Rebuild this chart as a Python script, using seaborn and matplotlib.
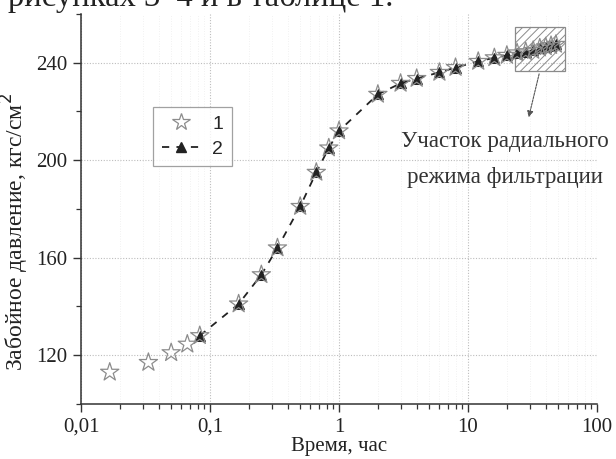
import pandas as pd
import matplotlib
matplotlib.use("Agg")
import matplotlib.pyplot as plt
import seaborn as sns
from matplotlib.patches import Rectangle
from matplotlib.lines import Line2D
from matplotlib.ticker import FixedLocator, LogLocator, NullFormatter, MultipleLocator

# curve 1 - measured points (stars), time in hours
time_1 = [0.0167, 0.0333, 0.05, 0.0667, 0.0833, 0.1667, 0.25, 0.3333, 0.5, 0.6667,
          0.8333, 1, 2, 3, 4, 6, 8, 12, 16, 20, 24, 28, 32, 36, 40, 44, 48]
pressure_1 = [113, 117, 121, 124.5, 128, 141, 153, 164, 181, 195,
              205, 212, 227, 231.5, 233.5, 236, 238, 240.5, 242, 243, 244, 244.5, 245, 246, 246.5, 247, 247.5]

# curve 2 - calculated (triangles, dashed)
time_2 = [0.0833, 0.1667, 0.25, 0.3333, 0.5, 0.6667, 0.8333, 1, 2, 3, 4, 6, 8,
          12, 16, 20, 24, 28, 32, 36, 40, 44, 48]
pressure_2 = [128, 141, 153, 164, 181, 195, 205, 212, 227, 231.5, 233.5, 236, 238,
              240.5, 242, 243, 244, 244.5, 245, 246, 246.5, 247, 247.5]

x_ticks = [0.01, 0.1, 1, 10, 100]
x_tick_labels = ["0,01", "0,1", "1", "10", "100"]
y_ticks = [120, 160, 200, 240]

sns.set_style("ticks")
plt.rcParams['font.family'] = ['Liberation Serif', 'DejaVu Serif']
plt.rcParams['hatch.color'] = '#b0b0b0'
plt.rcParams['hatch.linewidth'] = 0.7

df1 = pd.DataFrame({"t": time_1, "p": pressure_1})
df2 = pd.DataFrame({"t": time_2, "p": pressure_2})

fig = plt.figure(figsize=(6.16, 4.59), dpi=100)
ax = fig.add_axes([0.1315, 0.12, 0.8377, 0.8497])

sns.lineplot(data=df2, x="t", y="p", ax=ax, color="#222222", linestyle=(0, (4, 4)),
             linewidth=1.3, marker="^", markersize=6.5, markeredgecolor="#222222",
             estimator=None, zorder=3)
sns.scatterplot(data=df1, x="t", y="p", ax=ax, marker="*", s=190, facecolor="none",
                edgecolor="#8c8c8c", linewidth=0.9, zorder=4)

ax.set_xscale("log")
ax.set_xlim(0.01, 100)
ax.set_ylim(100, 260)
ax.xaxis.set_major_locator(FixedLocator(x_ticks))
ax.set_xticklabels(x_tick_labels)
ax.xaxis.set_minor_locator(LogLocator(base=10, subs=range(2, 10)))
ax.xaxis.set_minor_formatter(NullFormatter())
ax.set_yticks(y_ticks)
ax.yaxis.set_minor_locator(MultipleLocator(20))

ax.grid(which="major", color="#bdbdbd", linestyle=(0, (1, 1.5)), linewidth=0.8)
ax.grid(which="minor", axis="x", color="#ededed", linestyle=(0, (1, 2)), linewidth=0.6)
ax.set_axisbelow(True)

for s in ["top", "right"]:
    ax.spines[s].set_visible(False)
for s in ["left", "bottom"]:
    ax.spines[s].set_color("#333333")
    ax.spines[s].set_linewidth(1.1)

ax.tick_params(which="major", length=6, width=1, color="#333333", labelsize=15, labelcolor="#222222", pad=4)
ax.tick_params(which="minor", length=3.5, width=0.9, color="#333333")

ax.set_xlabel("Время, час", fontsize=15, color="#222222", labelpad=0)
ax.set_ylabel("Забойное давление, кгс/см$^2$", fontsize=17, color="#222222")
ax.yaxis.set_label_coords(-0.097, 0.441)

# hatched region of radial flow
box = Rectangle((23, 236.5), 33, 18, facecolor="none", edgecolor="#8a8a8a",
                hatch="////", linewidth=0.9, zorder=2)
ax.add_patch(box)
ax.annotate("", xy=(29.2, 216.5), xytext=(36, 236.5),
            arrowprops=dict(arrowstyle="-|>", color="#555555", lw=0.8,
                            mutation_scale=9, linestyle=(0, (2, 1))))
ax.text(19.4, 200.3, "Участок радиального\nрежима фильтрации", ha="center", va="center",
        multialignment="center", fontsize=16.5, color="#333333", linespacing=1.95)

handles = [
    Line2D([], [], linestyle="none", marker="*", markersize=13, markerfacecolor="none",
           markeredgecolor="#8c8c8c", markeredgewidth=0.9),
    Line2D([], [], color="#222222", linestyle=(0, (4, 4)), linewidth=1.3, marker="^",
           markersize=6.5, markeredgecolor="#222222"),
]
leg = ax.legend(handles, ["1", "2"], loc="upper left", bbox_to_anchor=(0.1395, 0.7615),
                borderaxespad=0, frameon=True, fancybox=False, handlelength=2.0,
                prop={"family": "Liberation Sans", "size": 14}, labelspacing=0.35,
                borderpad=0.45, handletextpad=0.6)
leg.get_frame().set_edgecolor("#8a8a8a")
leg.get_frame().set_linewidth(0.9)

# cut-off line of the page text above the figure
fig.text(0.013, 0.986, "рисунках 3–4 и в таблице 1.", fontsize=23.5, color="#222222",
         ha="left", va="baseline")

fig.savefig("out.png", dpi=100)
